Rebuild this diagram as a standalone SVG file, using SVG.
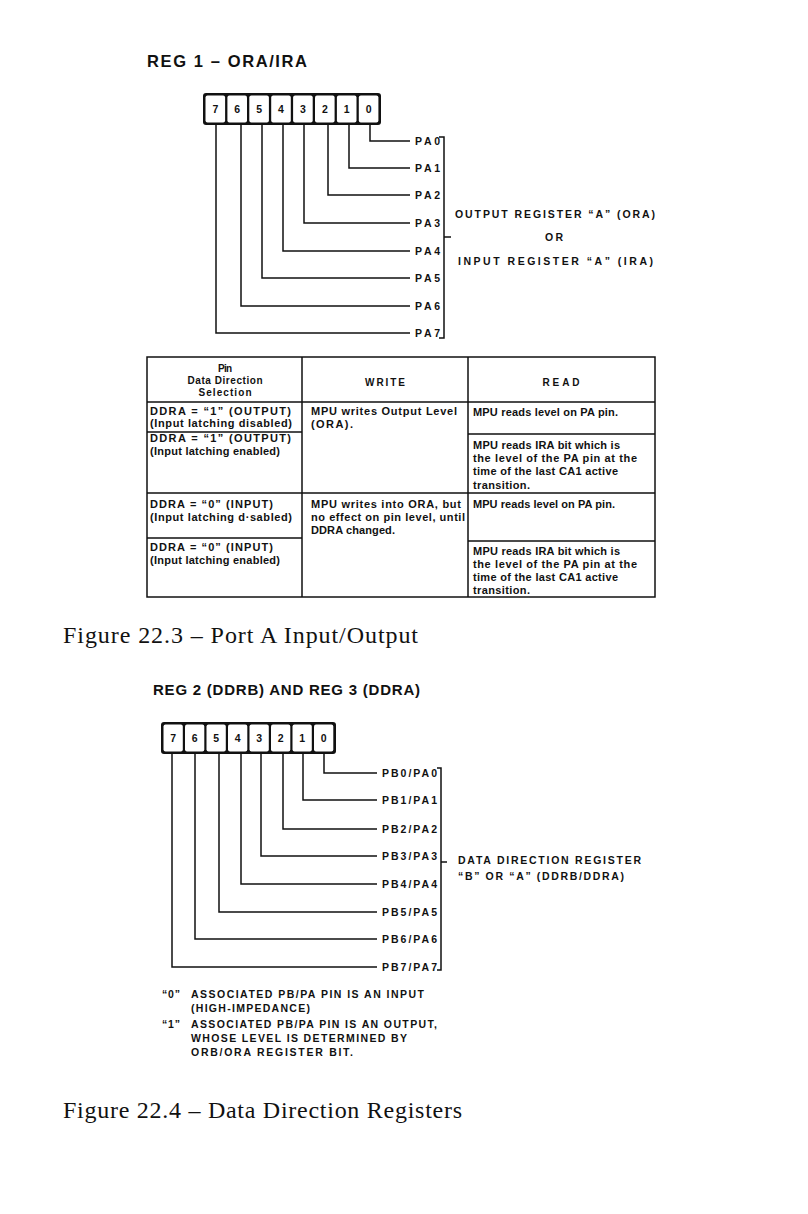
<svg xmlns="http://www.w3.org/2000/svg" width="808" height="1214" viewBox="0 0 808 1214">
<style>
.t{font-family:"Liberation Sans",Arial,sans-serif;font-weight:bold;fill:#111}
.title{font-size:16.5px}
.title2{font-size:15px}
.lbl{font-size:10.5px}
.dg{font-size:10.5px;text-anchor:middle}
.tb{font-size:11px}
.hd{font-size:10px}
.mid{text-anchor:middle}
.cap{font-family:"Liberation Serif","Times New Roman",serif;font-size:24px;fill:#111}
.ln{stroke:#111;stroke-width:1.5;fill:none}
.frame{fill:#111}
.cell{fill:#fff}
.grid{stroke:#111;stroke-width:1.5;fill:none}
</style>
<rect width="808" height="1214" fill="#fff"/>

<!-- Figure 22.3 -->
<text id="title1" class="t title" x="147" y="67" textLength="160" lengthAdjust="spacing">REG 1 – ORA/IRA</text>

<g id="reg1">
<rect class="frame" x="203" y="93" width="178" height="32" rx="3"/>
<rect class="cell" x="205.5" y="95.5" width="19.6" height="27" rx="2"/>
<rect class="cell" x="227.4" y="95.5" width="19.6" height="27" rx="2"/>
<rect class="cell" x="249.3" y="95.5" width="19.6" height="27" rx="2"/>
<rect class="cell" x="271.2" y="95.5" width="19.6" height="27" rx="2"/>
<rect class="cell" x="293.1" y="95.5" width="19.6" height="27" rx="2"/>
<rect class="cell" x="315" y="95.5" width="19.6" height="27" rx="2"/>
<rect class="cell" x="336.9" y="95.5" width="19.6" height="27" rx="2"/>
<rect class="cell" x="358.8" y="95.5" width="19.6" height="27" rx="2"/>
<text class="t dg" x="215.3" y="113">7</text>
<text class="t dg" x="237.2" y="113">6</text>
<text class="t dg" x="259.1" y="113">5</text>
<text class="t dg" x="281" y="113">4</text>
<text class="t dg" x="302.9" y="113">3</text>
<text class="t dg" x="324.8" y="113">2</text>
<text class="t dg" x="346.7" y="113">1</text>
<text class="t dg" x="368.6" y="113">0</text>
</g>

<g id="connectors1">
<path class="ln" d="M370,125 V141 H410"/>
<path class="ln" d="M349,125 V168 H410"/>
<path class="ln" d="M328,125 V195 H410"/>
<path class="ln" d="M304,125 V223 H410"/>
<path class="ln" d="M283,125 V251 H410"/>
<path class="ln" d="M262,125 V278 H410"/>
<path class="ln" d="M241,125 V306 H410"/>
<path class="ln" d="M216,125 V333 H410"/>
<path class="ln" d="M439,137 H444 V338 H439 M444,237 H451"/>
</g>

<g id="pa-labels">
<text class="t lbl" x="415" y="145" textLength="25" lengthAdjust="spacing">PA0</text>
<text class="t lbl" x="415" y="172" textLength="25" lengthAdjust="spacing">PA1</text>
<text class="t lbl" x="415" y="199" textLength="25" lengthAdjust="spacing">PA2</text>
<text class="t lbl" x="415" y="227" textLength="25" lengthAdjust="spacing">PA3</text>
<text class="t lbl" x="415" y="255" textLength="25" lengthAdjust="spacing">PA4</text>
<text class="t lbl" x="415" y="282" textLength="25" lengthAdjust="spacing">PA5</text>
<text class="t lbl" x="415" y="310" textLength="25" lengthAdjust="spacing">PA6</text>
<text class="t lbl" x="415" y="337" textLength="25" lengthAdjust="spacing">PA7</text>
</g>

<g id="ora-ira-note">
<text class="t lbl" x="455" y="218" textLength="200" lengthAdjust="spacing">OUTPUT REGISTER “A” (ORA)</text>
<text class="t lbl" x="545" y="241" textLength="18" lengthAdjust="spacing">OR</text>
<text class="t lbl" x="458" y="265" textLength="195" lengthAdjust="spacing">INPUT REGISTER “A” (IRA)</text>
</g>

<g id="table">
<rect class="grid" x="147" y="357" width="508" height="240"/>
<path class="grid" d="M302,357 V597 M468,357 V597 M147,402 H655 M147,493 H655 M147,432 H302 M147,538 H302 M468,434 H655 M468,541 H655"/>
<text class="t hd mid" x="225" y="372" textLength="14" lengthAdjust="spacing">Pin</text>
<text class="t hd mid" x="225" y="384" textLength="75" lengthAdjust="spacing">Data Direction</text>
<text class="t hd mid" x="225" y="396" textLength="53" lengthAdjust="spacing">Selection</text>
<text class="t hd mid" x="385" y="386" textLength="40" lengthAdjust="spacing">WRITE</text>
<text class="t hd mid" x="561" y="386" textLength="37" lengthAdjust="spacing">READ</text>

<text class="t tb" x="150" y="415" textLength="141" lengthAdjust="spacing">DDRA = “1” (OUTPUT)</text>
<text class="t tb" x="150" y="427" textLength="142" lengthAdjust="spacing">(Input latching disabled)</text>
<text class="t tb" x="150" y="442" textLength="141" lengthAdjust="spacing">DDRA = “1” (OUTPUT)</text>
<text class="t tb" x="150" y="455" textLength="130" lengthAdjust="spacing">(Input latching enabled)</text>
<text class="t tb" x="150" y="508" textLength="123" lengthAdjust="spacing">DDRA = “0” (INPUT)</text>
<text class="t tb" x="150" y="521" textLength="142" lengthAdjust="spacing">(Input latching d·sabled)</text>
<text class="t tb" x="150" y="551" textLength="123" lengthAdjust="spacing">DDRA = “0” (INPUT)</text>
<text class="t tb" x="150" y="564" textLength="130" lengthAdjust="spacing">(Input latching enabled)</text>

<text class="t tb" x="311" y="415" textLength="146" lengthAdjust="spacing">MPU writes Output Level</text>
<text class="t tb" x="311" y="428" textLength="42" lengthAdjust="spacing">(ORA).</text>
<text class="t tb" x="311" y="508" textLength="150" lengthAdjust="spacing">MPU writes into ORA, but</text>
<text class="t tb" x="311" y="521" textLength="154" lengthAdjust="spacing">no effect on pin level, until</text>
<text class="t tb" x="311" y="534" textLength="84" lengthAdjust="spacing">DDRA changed.</text>

<text class="t tb" x="473" y="416" textLength="145" lengthAdjust="spacing">MPU reads level on PA pin.</text>
<text class="t tb" x="473" y="449" textLength="147" lengthAdjust="spacing">MPU reads IRA bit which is</text>
<text class="t tb" x="473" y="462" textLength="164" lengthAdjust="spacing">the level of the PA pin at the</text>
<text class="t tb" x="473" y="475" textLength="145" lengthAdjust="spacing">time of the last CA1 active</text>
<text class="t tb" x="473" y="489" textLength="57" lengthAdjust="spacing">transition.</text>
<text class="t tb" x="473" y="508" textLength="142" lengthAdjust="spacing">MPU reads level on PA pin.</text>
<text class="t tb" x="473" y="555" textLength="147" lengthAdjust="spacing">MPU reads IRA bit which is</text>
<text class="t tb" x="473" y="568" textLength="164" lengthAdjust="spacing">the level of the PA pin at the</text>
<text class="t tb" x="473" y="581" textLength="145" lengthAdjust="spacing">time of the last CA1 active</text>
<text class="t tb" x="473" y="594" textLength="57" lengthAdjust="spacing">transition.</text>
</g>

<text id="caption1" class="cap" x="63" y="643" textLength="355" lengthAdjust="spacing">Figure 22.3 – Port A Input/Output</text>

<!-- Figure 22.4 -->
<text id="title2" class="t title2" x="153" y="695" textLength="267" lengthAdjust="spacing">REG 2 (DDRB) AND REG 3 (DDRA)</text>

<g id="reg2">
<rect class="frame" x="161" y="722" width="175" height="32" rx="3"/>
<rect class="cell" x="163.5" y="724.5" width="19.3" height="27" rx="2"/>
<rect class="cell" x="185" y="724.5" width="19.3" height="27" rx="2"/>
<rect class="cell" x="206.5" y="724.5" width="19.3" height="27" rx="2"/>
<rect class="cell" x="228" y="724.5" width="19.3" height="27" rx="2"/>
<rect class="cell" x="249.5" y="724.5" width="19.3" height="27" rx="2"/>
<rect class="cell" x="271" y="724.5" width="19.3" height="27" rx="2"/>
<rect class="cell" x="292.5" y="724.5" width="19.3" height="27" rx="2"/>
<rect class="cell" x="314" y="724.5" width="19.3" height="27" rx="2"/>
<text class="t dg" x="173.2" y="742">7</text>
<text class="t dg" x="194.7" y="742">6</text>
<text class="t dg" x="216.2" y="742">5</text>
<text class="t dg" x="237.7" y="742">4</text>
<text class="t dg" x="259.2" y="742">3</text>
<text class="t dg" x="280.7" y="742">2</text>
<text class="t dg" x="302.2" y="742">1</text>
<text class="t dg" x="323.7" y="742">0</text>
</g>

<g id="connectors2">
<path class="ln" d="M324,754 V773 H377"/>
<path class="ln" d="M303,754 V800 H377"/>
<path class="ln" d="M283,754 V829 H377"/>
<path class="ln" d="M261,754 V856 H377"/>
<path class="ln" d="M241,754 V884 H377"/>
<path class="ln" d="M219,754 V912 H377"/>
<path class="ln" d="M195,754 V939 H377"/>
<path class="ln" d="M172,754 V967 H377"/>
<path class="ln" d="M437,768 H441 V970 H437 M441,862 H447"/>
</g>

<g id="pbpa-labels">
<text class="t lbl" x="382" y="777" textLength="55" lengthAdjust="spacing">PB0/PA0</text>
<text class="t lbl" x="382" y="804" textLength="55" lengthAdjust="spacing">PB1/PA1</text>
<text class="t lbl" x="382" y="833" textLength="55" lengthAdjust="spacing">PB2/PA2</text>
<text class="t lbl" x="382" y="860" textLength="55" lengthAdjust="spacing">PB3/PA3</text>
<text class="t lbl" x="382" y="888" textLength="55" lengthAdjust="spacing">PB4/PA4</text>
<text class="t lbl" x="382" y="916" textLength="55" lengthAdjust="spacing">PB5/PA5</text>
<text class="t lbl" x="382" y="943" textLength="55" lengthAdjust="spacing">PB6/PA6</text>
<text class="t lbl" x="382" y="971" textLength="55" lengthAdjust="spacing">PB7/PA7</text>
</g>

<g id="ddr-note">
<text class="t lbl" x="458" y="864" textLength="183" lengthAdjust="spacing">DATA DIRECTION REGISTER</text>
<text class="t lbl" x="458" y="880" textLength="166" lengthAdjust="spacing">“B” OR “A” (DDRB/DDRA)</text>
</g>

<g id="legend">
<text class="t lbl" x="162" y="998" textLength="18" lengthAdjust="spacing">“0”</text>
<text class="t lbl" x="191" y="998" textLength="233" lengthAdjust="spacing">ASSOCIATED PB/PA PIN IS AN INPUT</text>
<text class="t lbl" x="191" y="1012" textLength="119" lengthAdjust="spacing">(HIGH-IMPEDANCE)</text>
<text class="t lbl" x="162" y="1028" textLength="18" lengthAdjust="spacing">“1”</text>
<text class="t lbl" x="191" y="1028" textLength="246" lengthAdjust="spacing">ASSOCIATED PB/PA PIN IS AN OUTPUT,</text>
<text class="t lbl" x="191" y="1042" textLength="216" lengthAdjust="spacing">WHOSE LEVEL IS DETERMINED BY</text>
<text class="t lbl" x="191" y="1056" textLength="162" lengthAdjust="spacing">ORB/ORA REGISTER BIT.</text>
</g>

<text id="caption2" class="cap" x="63" y="1118" textLength="399" lengthAdjust="spacing">Figure 22.4 – Data Direction Registers</text>
</svg>
